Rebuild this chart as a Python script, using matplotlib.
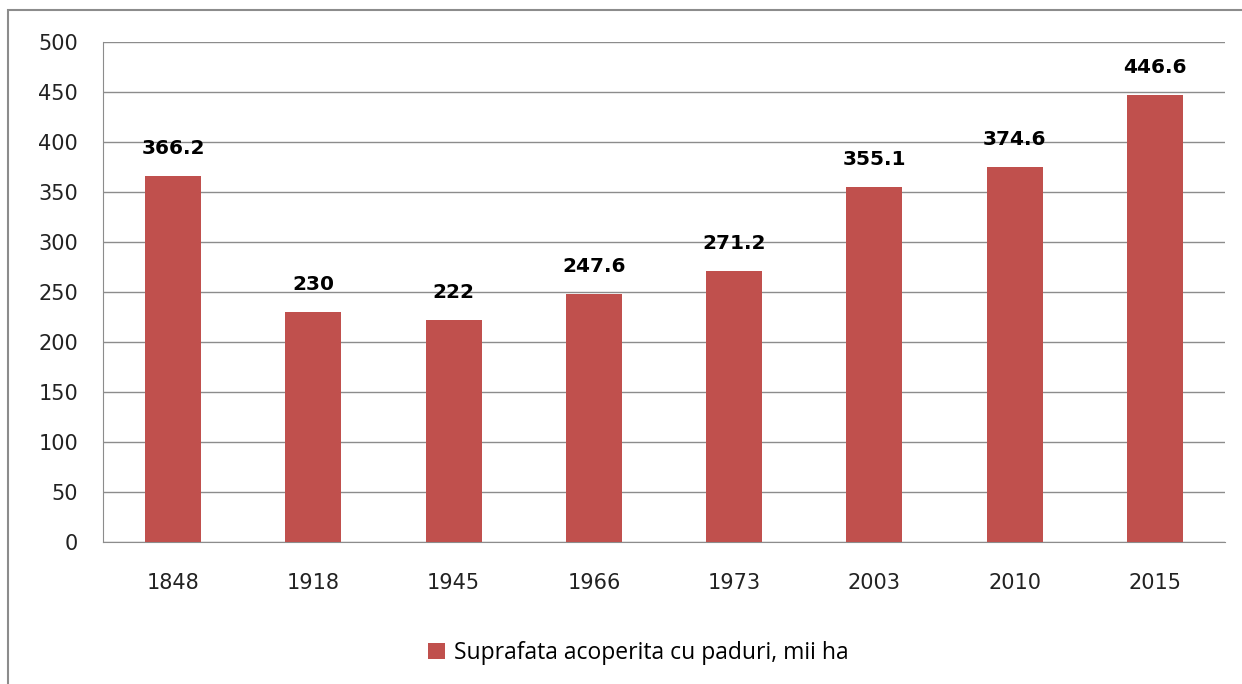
import matplotlib
matplotlib.use("Agg")
import matplotlib.pyplot as plt
from matplotlib.patches import Rectangle

ani = ["1848", "1918", "1945", "1966", "1973", "2003", "2010", "2015"]
suprafata = [366.2, 230, 222, 247.6, 271.2, 355.1, 374.6, 446.6]
etichete = ["366.2", "230", "222", "247.6", "271.2", "355.1", "374.6", "446.6"]

culoare = "#C0504D"

fig = plt.figure(figsize=(12.42, 6.84), dpi=100)
ax = fig.add_axes([103 / 1242, 1 - 542 / 684, 1122 / 1242, 500 / 684])

# chenarul graficului
fig.patches.append(Rectangle((8 / 1242, -0.1), 1.2, 1 - 10 / 684 + 0.1,
                             transform=fig.transFigure, fill=False,
                             edgecolor="#8c8c8c", linewidth=1.5))

x = list(range(len(ani)))
bare = ax.bar(x, suprafata, width=0.4, color=culoare,
              label="Suprafata acoperita cu paduri, mii ha", zorder=3)

for xi, v, t in zip(x, suprafata, etichete):
    ax.text(xi, v + 18, t, ha="center", va="bottom", fontsize=14.5,
            fontweight="bold", family="DejaVu Sans")

ax.set_xlim(-0.5, len(ani) - 0.5)
ax.set_ylim(0, 500)
ax.set_yticks(range(0, 501, 50))
ax.set_xticks(x)
ax.set_xticklabels(ani)
ax.tick_params(axis="both", labelsize=15, length=0, colors="#000000")
ax.tick_params(axis="x", pad=22)
ax.tick_params(axis="y", pad=18)
for lbl in ax.get_xticklabels() + ax.get_yticklabels():
    lbl.set_color("#222222")

ax.grid(axis="y", color="#8c8c8c", linewidth=1, zorder=0)
for s in ["top", "right"]:
    ax.spines[s].set_visible(False)
ax.spines["left"].set_color("#8c8c8c")
ax.spines["bottom"].set_color("#8c8c8c")

leg = fig.legend(loc="center", bbox_to_anchor=(638 / 1242, 1 - 653 / 684),
                 frameon=False, prop={"family": "Open Sans", "size": 16.5},
                 handlelength=0.75, handleheight=0.75, handletextpad=0.4)

fig.savefig("out.png", dpi=100)
